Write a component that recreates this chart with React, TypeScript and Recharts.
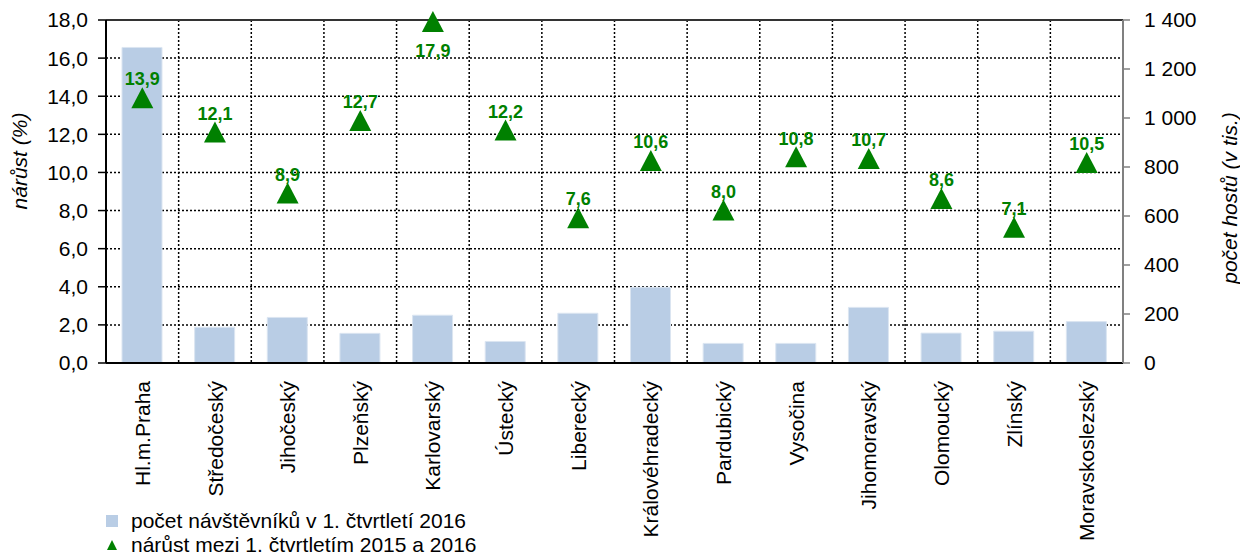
import React from 'react';
import {
  ComposedChart,
  Bar,
  Scatter,
  XAxis,
  YAxis,
  CartesianGrid,
  ReferenceLine,
  LabelList,
} from 'recharts';

const regions = [
  'Hl.m.Praha',
  'Středočeský',
  'Jihočeský',
  'Plzeňský',
  'Karlovarský',
  'Ústecký',
  'Liberecký',
  'Královéhradecký',
  'Pardubický',
  'Vysočina',
  'Jihomoravský',
  'Olomoucký',
  'Zlínský',
  'Moravskoslezský',
];

// počet hostů v 1. čtvrtletí 2016 (v tis.)
const guests = [1288, 146, 186, 121, 195, 88, 203, 309, 80, 80, 227, 122, 130, 169];

// nárůst mezi 1. čtvrtletím 2015 a 2016 (%)
const growth = [13.9, 12.1, 8.9, 12.7, 17.9, 12.2, 7.6, 10.6, 8.0, 10.8, 10.7, 8.6, 7.1, 10.5];

const leftTicks = [0, 2, 4, 6, 8, 10, 12, 14, 16, 18];
const rightTicks = [0, 200, 400, 600, 800, 1000, 1200, 1400];

const data = regions.map((name, i) => ({ name, guests: guests[i], growth: growth[i] }));

const FONT = '"Liberation Sans", Arial, sans-serif';
const BAR_COLOR = '#b9cde5';
const GREEN = '#008000';

const fmtPct = (v: number) => v.toFixed(1).replace('.', ',');
const fmtThousands = (v: number) => String(v).replace(/\B(?=(\d{3})+(?!\d))/g, ' ');

const Triangle = (props: any) => {
  const { cx, cy } = props;
  if (cx == null || cy == null) return null;
  return (
    <path
      d={`M${cx},${cy - 11} L${cx + 11},${cy + 10} L${cx - 11},${cy + 10} Z`}
      fill={GREEN}
    />
  );
};

const GrowthLabel = (props: any) => {
  const { x, y, width, height, value } = props;
  const cx = x + (width || 0) / 2;
  const cy = y + (height || 0) / 2;
  // label goes under the marker when it would hit the top of the plot
  const below = value > 17;
  return (
    <text
      x={cx}
      y={below ? cy + 29 : cy - 19}
      dy="0.35em"
      textAnchor="middle"
      fill={GREEN}
      fontSize={18}
      fontWeight="bold"
      fontFamily={FONT}
    >
      {fmtPct(value)}
    </text>
  );
};

const RegionTick = (props: any) => {
  const { x, payload } = props;
  const y = 381;
  return (
    <text
      x={x}
      y={y}
      transform={`rotate(-90 ${x} ${y})`}
      textAnchor="end"
      dy="0.36em"
      fontSize={21}
      fontFamily={FONT}
      fill="#000"
    >
      {payload.value}
    </text>
  );
};

const LegendBox = () => (
  <div
    style={{
      position: 'absolute',
      left: 106,
      top: 509,
      fontFamily: FONT,
      fontSize: 21,
      color: '#000',
      lineHeight: '24px',
    }}
  >
    <div style={{ display: 'flex', alignItems: 'center' }}>
      <span style={{ width: 12, height: 12, background: BAR_COLOR, display: 'inline-block', marginRight: 13 }} />
      počet návštěvníků v 1. čtvrtletí 2016
    </div>
    <div style={{ display: 'flex', alignItems: 'center' }}>
      <svg width={12} height={12} style={{ marginRight: 13 }}>
        <path d="M6,1 L11,11 L1,11 Z" fill={GREEN} />
      </svg>
      nárůst mezi 1. čtvrtletím 2015 a 2016
    </div>
  </div>
);

export default function App() {
  return (
    <div style={{ position: 'absolute', left: 0, top: 0, width: 1240, height: 554, background: '#fff' }}>
      <ComposedChart
        width={1240}
        height={554}
        data={data}
        margin={{ top: 20, right: 0, bottom: 0, left: 0 }}
        barCategoryGap="45%"
      >
        <CartesianGrid
          yAxisId="left"
          stroke="#000"
          strokeDasharray="2 2"
          strokeWidth={1.5}
          verticalCoordinatesGenerator={({ offset }: any) =>
            Array.from({ length: regions.length + 1 }, (_, i) => offset.left + (i * offset.width) / regions.length)
          }
        />
        <XAxis
          dataKey="name"
          height={191}
          interval={0}
          tickLine={false}
          axisLine={{ stroke: '#000', strokeWidth: 2 }}
          tick={<RegionTick />}
        />
        <YAxis
          yAxisId="left"
          orientation="left"
          width={106}
          domain={[0, 18]}
          ticks={leftTicks}
          tickFormatter={fmtPct}
          axisLine={{ stroke: '#000', strokeWidth: 2 }}
          tickLine={{ stroke: '#000', strokeWidth: 1.5 }}
          tickSize={8}
          tickMargin={10}
          tick={{ fill: '#000', fontSize: 21, fontFamily: FONT }}
          label={{
            content: () => (
              <text
                x={20}
                y={161}
                transform="rotate(-90 20 161)"
                textAnchor="middle"
                dy="0.35em"
                fontSize={21}
                fontStyle="italic"
                fontFamily={FONT}
                fill="#000"
              >
                nárůst (%)
              </text>
            ),
          }}
        />
        <YAxis
          yAxisId="right"
          orientation="right"
          width={117}
          domain={[0, 1400]}
          ticks={rightTicks}
          tickFormatter={fmtThousands}
          axisLine={{ stroke: '#808080', strokeWidth: 2 }}
          tickLine={{ stroke: '#808080', strokeWidth: 1.5 }}
          tickSize={7}
          tickMargin={14}
          tick={{ fill: '#000', fontSize: 21, fontFamily: FONT, textAnchor: 'start' }}
          label={{
            content: () => (
              <text
                x={1230}
                y={198}
                transform="rotate(-90 1230 198)"
                textAnchor="middle"
                dy="0.35em"
                fontSize={21}
                fontStyle="italic"
                fontFamily={FONT}
                fill="#000"
              >
                počet hostů (v tis.)
              </text>
            ),
          }}
        />
        <ReferenceLine yAxisId="left" y={18} stroke="#333" strokeWidth={2} />
        <Bar
          yAxisId="right"
          dataKey="guests"
          fill={BAR_COLOR}
          stroke="#dbe5f1"
          strokeWidth={1}
          barSize={40}
          isAnimationActive={false}
        />
        <Scatter
          yAxisId="left"
          dataKey="growth"
          shape={<Triangle />}
          isAnimationActive={false}
        >
          <LabelList dataKey="growth" content={<GrowthLabel />} />
        </Scatter>
      </ComposedChart>
      <LegendBox />
    </div>
  );
}
